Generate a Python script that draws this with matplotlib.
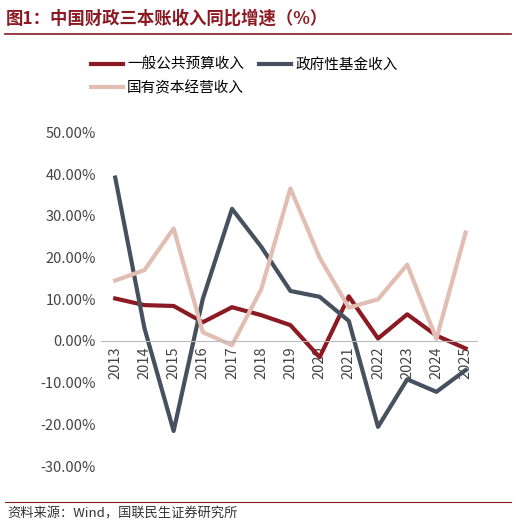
import matplotlib
matplotlib.use("Agg")
import matplotlib.pyplot as plt
from matplotlib.lines import Line2D

plt.rcParams['font.family'] = ['Noto Sans CJK SC', 'DejaVu Sans']

years = list(range(2013, 2026))
general_budget = [10.2, 8.6, 8.4, 4.5, 8.1, 6.2, 3.8, -3.9, 10.7, 0.6, 6.4, 1.3, -1.8]
gov_fund = [39.2, 3.1, -21.6, 10.1, 31.7, 22.6, 12.0, 10.6, 4.8, -20.6, -9.2, -12.2, -7.0]
state_capital = [14.5, 17.0, 27.0, 2.1, -1.0, 12.4, 36.6, 20.0, 8.0, 10.0, 18.3, 0.5, 26.0]
names = ['一般公共预算收入', '政府性基金收入', '国有资本经营收入']
colors = ['#8B1A22', '#47505E', '#E2BDB2']

fig = plt.figure(figsize=(5.16, 5.26), dpi=100)
fig.text(0.012, 0.965, '图1：中国财政三本账收入同比增速（%）', fontsize=12.5, fontweight='bold', color='#8B1A22', va='center')
fig.add_artist(Line2D([0.01, 0.99], [0.935, 0.935], color='#8B1A22', lw=1.2))
fig.add_artist(Line2D([0.01, 0.99], [0.045, 0.045], color='#8B1A22', lw=0.8))
fig.text(0.015, 0.022, '资料来源：Wind，国联民生证券研究所', fontsize=9.5, color='#333333', va='center')

ax = fig.add_axes([0.195, 0.114, 0.73, 0.634])
for vals, c, n in zip([general_budget, gov_fund, state_capital], colors, names):
    ax.plot(years, vals, color=c, lw=3, label=n)
ax.set_ylim(-30, 50)
ax.set_xlim(2012.5, 2025.4)
for s in ['top', 'right', 'left']:
    ax.spines[s].set_visible(False)
ax.spines['bottom'].set_position(('data', 0))
ax.spines['bottom'].set_color('#BBBBBB')
ax.set_yticks(range(-30, 51, 10))
ax.set_yticklabels([f'{v:.2f}%' for v in range(-30, 51, 10)], fontsize=10.5, color='#444444')
ax.set_xticks(years)
ax.set_xticklabels([str(y) for y in years], fontsize=10.5, color='#444444')
ax.tick_params(axis='both', length=0)
ax.tick_params(axis='x', pad=4, labelrotation=90)

h, l = ax.get_legend_handles_labels()
order = [0, 2, 1]
fig.legend([h[i] for i in order], [l[i] for i in order], loc='upper left', bbox_to_anchor=(0.15, 0.915),
           ncol=2, frameon=False, fontsize=10.5, handlelength=2.2, columnspacing=1.0,
           handletextpad=0.3, labelspacing=0.6)
fig.savefig('out.png', dpi=100)
